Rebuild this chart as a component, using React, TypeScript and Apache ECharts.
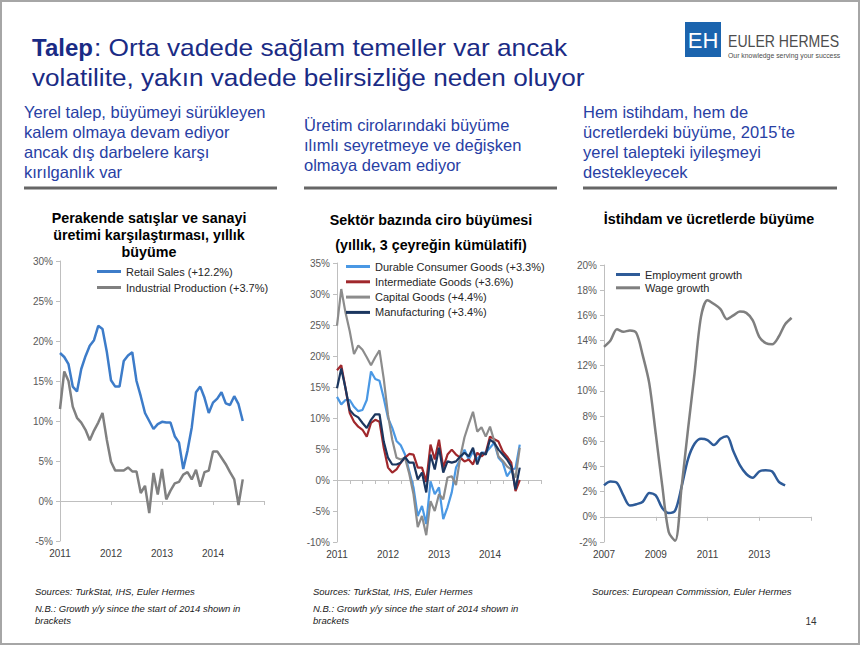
import React, { useEffect, useRef } from "react";
import * as echarts from "echarts";

// ---------- data ----------
const retailSales = [18.5, 18.0, 17.1, 14.3, 13.7, 16.5, 18.1, 19.4, 20.1, 21.9, 21.5, 18.7, 15.1, 14.3, 14.3, 17.5, 18.2, 18.6, 15.0, 13.1, 11.0, 10.0, 9.0, 9.6, 9.9, 9.8, 9.8, 8.1, 7.3, 4.0, 6.3, 9.2, 13.6, 14.3, 12.9, 11.0, 12.3, 12.8, 13.6, 12.2, 12.0, 13.1, 12.1, 10.0];
const industrialProduction = [11.5, 16.2, 15.0, 11.8, 10.4, 9.8, 8.9, 7.6, 8.8, 9.8, 11.0, 7.7, 4.9, 3.8, 3.8, 3.8, 4.2, 3.7, 3.7, 1.0, 1.9, -1.5, 3.5, 0.8, 4.0, 0.2, 1.3, 2.2, 2.4, 3.3, 3.6, 2.7, 3.9, 1.8, 3.6, 3.8, 6.2, 6.2, 5.4, 4.6, 3.6, 2.7, -0.5, 2.7];

const durableGoods = [13.4, 12.2, 12.9, 12.9, 11.8, 11.1, 11.3, 12.9, 17.5, 16.3, 16.0, 13.2, 10.0, 8.4, 6.3, 5.6, 4.1, 1.4, -1.2, -5.8, -4.2, -7.1, -0.2, -2.3, -1.2, -6.3, -4.4, -2.0, 2.0, 3.3, 4.9, 3.3, 4.6, 3.3, 4.4, 4.4, 5.2, 6.0, 3.6, 2.8, 0.6, 1.6, 1.9, 5.7];
const intermediateGoods = [17.7, 18.5, 14.8, 10.8, 9.4, 8.6, 8.1, 7.0, 9.2, 9.7, 9.4, 5.2, 2.0, 1.2, 1.7, 2.8, 3.6, 4.2, 4.1, 2.0, 2.0, -0.3, 5.7, 3.3, 6.5, 2.0, 4.1, 4.9, 4.1, 3.6, 3.0, 3.3, 2.5, 4.4, 3.8, 4.4, 7.0, 6.6, 6.2, 4.6, 3.8, 2.8, -1.8, 0.0];
const capitalGoods = [24.9, 30.8, 27.0, 24.0, 20.3, 21.7, 21.0, 19.8, 18.5, 19.8, 20.9, 16.3, 10.5, 6.5, 3.6, 3.3, 3.6, 1.0, -2.3, -7.6, -5.8, -8.9, -3.4, -5.0, -2.3, -3.1, 0.4, 0.6, -0.8, 3.7, 6.9, 9.0, 11.0, 7.8, 8.5, 7.0, 8.6, 6.3, 3.8, 3.1, 2.2, 1.7, 0.4, 5.2];
const manufacturing = [14.8, 18.0, 14.8, 11.3, 10.5, 10.1, 9.2, 8.4, 9.7, 10.6, 10.6, 6.2, 3.6, 2.5, 2.5, 2.8, 3.7, 2.8, 2.8, 0.1, 1.2, -2.0, 4.1, 1.7, 5.2, 1.2, 3.0, 2.8, 3.0, 3.8, 4.4, 3.8, 5.2, 2.5, 4.4, 4.1, 6.5, 6.0, 4.9, 4.1, 3.3, 2.2, -1.5, 2.0];

const employmentGrowth = [2.5, 2.8, 2.7, 1.7, 0.9, 1.0, 1.2, 1.9, 1.7, 0.7, 0.3, 0.5, 2.4, 4.6, 5.8, 6.2, 6.1, 5.7, 6.2, 6.4, 5.2, 4.1, 3.4, 3.1, 3.6, 3.7, 3.6, 2.8, 2.5];
const wageGrowth = [13.5, 14.0, 14.9, 14.7, 14.8, 14.6, 12.8, 10.6, 6.6, 2.5, -1.2, -1.9, 2.4, 7.0, 11.4, 15.9, 17.2, 16.9, 16.5, 15.7, 16.0, 16.3, 16.2, 15.6, 14.3, 13.8, 13.7, 14.3, 15.3, 15.8];

const yearLabels1 = ["2011", "2012", "2013", "2014"];
const yearLabels2 = ["2011", "2012", "2013", "2014"];
const yearLabels3 = ["2007", "2009", "2011", "2013"];

const names1 = ["Retail Sales (+12.2%)", "Industrial Production (+3.7%)"];
const names2 = ["Durable Consumer Goods (+3.3%)", "Intermediate Goods (+3.6%)", "Capital Goods (+4.4%)", "Manufacturing (+3.4%)"];
const names3 = ["Employment growth", "Wage growth"];

const FONT = '"Liberation Sans", Arial, sans-serif';
const AXIS_COLOR = "#BFBFBF";

function yAxis(gridIndex: number, min: number, max: number, interval: number) {
  return {
    type: "value", gridIndex, min, max, interval,
    axisLine: { show: true, lineStyle: { color: AXIS_COLOR, width: 1 } },
    axisTick: { show: true, length: 4, lineStyle: { color: AXIS_COLOR } },
    axisLabel: { fontSize: 10, color: "#595959", margin: 7, formatter: "{value}%", fontFamily: FONT },
    splitLine: { show: false },
  };
}
function zeroAxis(gridIndex: number, max: number, interval: number) {
  return {
    type: "value", gridIndex, min: 0, max, interval,
    axisLine: { show: true, onZero: true, lineStyle: { color: AXIS_COLOR, width: 1 } },
    axisTick: { show: true, length: 4, lineStyle: { color: AXIS_COLOR } },
    axisLabel: { show: false },
    splitLine: { show: false },
  };
}
function labelAxis(gridIndex: number, max: number, interval: number, labels: string[]) {
  return {
    type: "value", gridIndex, min: 0, max, interval, position: "bottom",
    axisLine: { show: false, onZero: false },
    axisTick: { show: false },
    axisLabel: {
      fontSize: 10, color: "#404040", margin: 7, fontFamily: FONT,
      formatter: (v: number) => labels[Math.round(v / interval)] ?? "",
    },
    splitLine: { show: false },
  };
}
function lineSeries(name: string, values: number[], xAxisIndex: number, yAxisIndex: number, color: string, smooth: number | boolean = false, width = 2.5) {
  return {
    type: "line", name, xAxisIndex, yAxisIndex, smooth,
    data: values.map((v, i) => [i, v]),
    symbol: "none", showSymbol: false,
    lineStyle: { color, width }, itemStyle: { color },
  };
}

function legend(left: number, top: number, gap: number, data: string[]) {
  return {
    left, top, orient: "vertical", itemWidth: 24, itemHeight: 3, itemGap: gap, icon: "rect", padding: 0,
    textStyle: { fontSize: 11, color: "#262626", fontFamily: FONT },
    data,
  };
}

const TITLE = "#1A2B85";
const SUB = "#2840A4";

function txt(x: number, y: number, text: string, font: string, fill: string, align = "left", scaleX = 1) {
  return { type: "text", x, y, scaleX, style: { text, font, fill, textAlign: align, textVerticalAlign: "middle" } };
}

const graphics: any[] = [
  { type: "rect", shape: { x: 1, y: 1, width: 858, height: 643 }, style: { fill: "none", stroke: "#A6A6A6", lineWidth: 2 } },
  txt(32, 47, "Talep", `bold 24px ${FONT}`, TITLE),
  txt(94, 47, ": Orta vadede sağlam temeller var ancak", `24px ${FONT}`, TITLE, "left", 1.095),
  txt(32, 77, "volatilite, yakın vadede belirsizliğe neden oluyor", `24px ${FONT}`, TITLE, "left", 1.09),
  // logo
  { type: "rect", shape: { x: 685, y: 22, width: 36, height: 35 }, style: { fill: "#1B64AE" } },
  txt(703, 40, "EH", `22px ${FONT}`, "#ffffff", "center"),
  txt(728, 41, "EULER HERMES", `16px ${FONT}`, "#4D4D4D", "left", 0.88),
  txt(728, 55, "Our knowledge serving your success", `8px ${FONT}`, "#4D4D4D", "left", 0.86),
  // subtitles
  txt(24, 112, "Yerel talep, büyümeyi sürükleyen", `16.5px ${FONT}`, SUB),
  txt(24, 132, "kalem olmaya devam ediyor", `16.5px ${FONT}`, SUB),
  txt(24, 152, "ancak dış darbelere karşı", `16.5px ${FONT}`, SUB),
  txt(24, 172, "kırılganlık var", `16.5px ${FONT}`, SUB),
  txt(304, 125, "Üretim cirolarındaki büyüme", `16.5px ${FONT}`, SUB),
  txt(304, 145, "ılımlı seyretmeye ve değişken", `16.5px ${FONT}`, SUB),
  txt(304, 165, "olmaya devam ediyor", `16.5px ${FONT}`, SUB),
  txt(583, 112, "Hem istihdam, hem de", `16.5px ${FONT}`, SUB),
  txt(583, 132, "ücretlerdeki büyüme, 2015’te", `16.5px ${FONT}`, SUB),
  txt(583, 152, "yerel talepteki iyileşmeyi", `16.5px ${FONT}`, SUB),
  txt(583, 172, "destekleyecek", `16.5px ${FONT}`, SUB),
  { type: "line", shape: { x1: 24, y1: 188, x2: 277, y2: 188 }, style: { stroke: "#666666", lineWidth: 3 } },
  { type: "line", shape: { x1: 304, y1: 188, x2: 557, y2: 188 }, style: { stroke: "#666666", lineWidth: 3 } },
  { type: "line", shape: { x1: 583, y1: 188, x2: 837, y2: 188 }, style: { stroke: "#666666", lineWidth: 3 } },
  // chart titles
  txt(149, 218, "Perakende satışlar ve sanayi", `bold 14.3px ${FONT}`, "#000000", "center"),
  txt(149, 235, "üretimi karşılaştırması, yıllık", `bold 14.3px ${FONT}`, "#000000", "center"),
  txt(149, 252, "büyüme", `bold 14.3px ${FONT}`, "#000000", "center"),
  txt(431, 220, "Sektör bazında ciro büyümesi", `bold 14.3px ${FONT}`, "#000000", "center"),
  txt(431, 245, "(yıllık, 3 çeyreğin kümülatifi)", `bold 14.3px ${FONT}`, "#000000", "center"),
  txt(709, 219, "İstihdam ve ücretlerde büyüme", `bold 14.3px ${FONT}`, "#000000", "center"),
  // footnotes
  txt(35, 591, "Sources: TurkStat, IHS, Euler Hermes", `italic 9.5px ${FONT}`, "#1A1A1A"),
  txt(35, 608, "N.B.: Growth y/y since the start of 2014 shown in", `italic 9.5px ${FONT}`, "#1A1A1A"),
  txt(35, 620, "brackets", `italic 9.5px ${FONT}`, "#1A1A1A"),
  txt(313, 591, "Sources: TurkStat, IHS, Euler Hermes", `italic 9.5px ${FONT}`, "#1A1A1A"),
  txt(313, 608, "N.B.: Growth y/y since the start of 2014 shown in", `italic 9.5px ${FONT}`, "#1A1A1A"),
  txt(313, 620, "brackets", `italic 9.5px ${FONT}`, "#1A1A1A"),
  txt(592, 591, "Sources: European Commission, Euler Hermes", `italic 9.5px ${FONT}`, "#1A1A1A"),
  txt(811, 621, "14", `10px ${FONT}`, "#333333", "center"),
];

const option: any = {
  animation: false,
  backgroundColor: "#ffffff",
  textStyle: { fontFamily: FONT },
  grid: [
    { left: 60, top: 261, width: 204, height: 280, containLabel: false },
    { left: 337, top: 263, width: 204, height: 279, containLabel: false },
    { left: 604, top: 265, width: 207, height: 277, containLabel: false },
  ],
  xAxis: [
    zeroAxis(0, 48, 12),
    labelAxis(0, 48, 12, yearLabels1),
    zeroAxis(1, 48, 3),
    labelAxis(1, 48, 12, yearLabels2),
    zeroAxis(2, 32, 8),
    labelAxis(2, 32, 8, yearLabels3),
  ],
  yAxis: [yAxis(0, -5, 30, 5), yAxis(1, -10, 35, 5), yAxis(2, -2, 20, 2)],
  legend: [legend(97, 266, 5, names1), legend(346, 261, 4.3, names2), legend(616, 269, 2.3, names3)],
  series: [
    lineSeries(names1[0], retailSales, 0, 0, "#3D7CC9"),
    lineSeries(names1[1], industrialProduction, 0, 0, "#808080"),
    lineSeries(names2[0], durableGoods, 2, 1, "#4A98E4", false, 2.2),
    lineSeries(names2[1], intermediateGoods, 2, 1, "#A0282C", false, 2.2),
    lineSeries(names2[2], capitalGoods, 2, 1, "#8C8C8C", false, 2.2),
    lineSeries(names2[3], manufacturing, 2, 1, "#1B365F", false, 2.2),
    lineSeries(names3[0], employmentGrowth, 4, 2, "#2E5B98", 0.3),
    lineSeries(names3[1], wageGrowth, 4, 2, "#7F7F7F", 0.3),
  ],
  graphic: graphics,
};

export default function App() {
  const ref = useRef<HTMLDivElement>(null);
  useEffect(() => {
    const chart = echarts.init(ref.current!, null, { renderer: "svg" });
    chart.setOption(option);
    return () => chart.dispose();
  }, []);
  return (
    <div
      ref={ref}
      style={{ position: "fixed", left: 0, top: 0, width: 866, height: 646, background: "#ffffff" }}
    />
  );
}
